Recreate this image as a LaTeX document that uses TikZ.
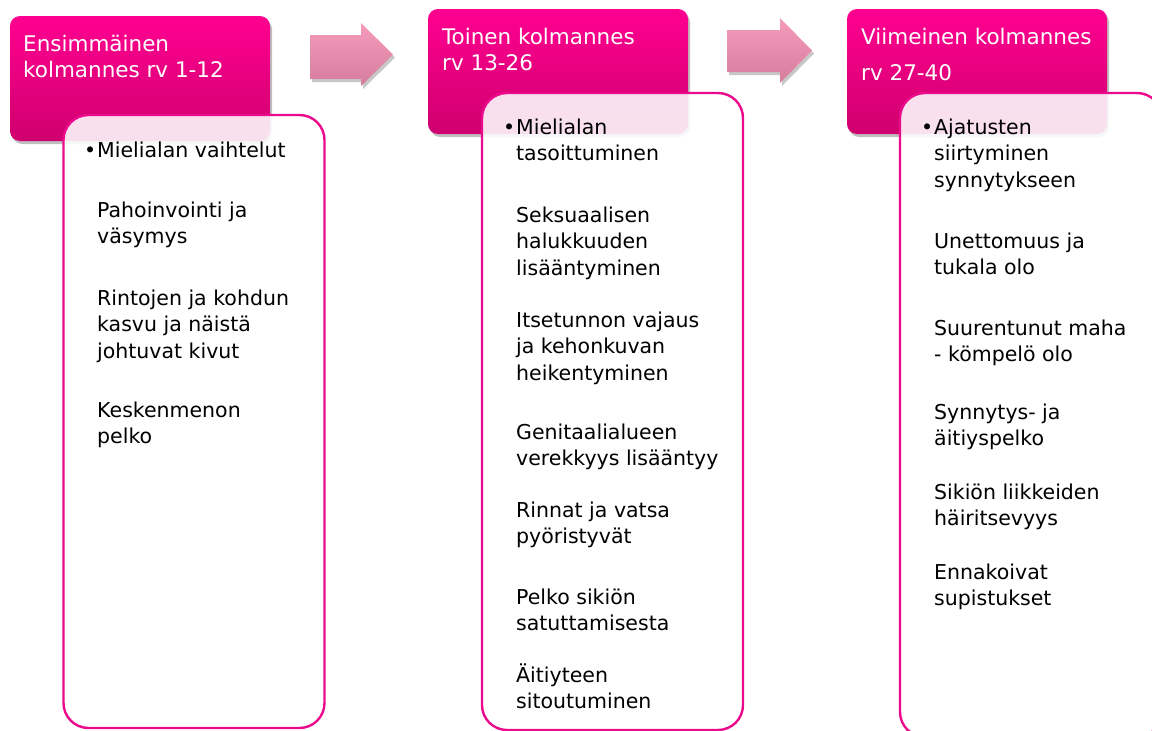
\documentclass[tikz,border=0pt]{standalone}
\usepackage{fontspec}
\setmainfont{DejaVu Sans}
\usetikzlibrary{shadows}
\definecolor{hdtop}{HTML}{FF0090}
\definecolor{hdbot}{HTML}{CF006E}
\definecolor{boxline}{HTML}{EC0A8C}
\definecolor{arrtop}{HTML}{F59CBD}
\definecolor{arrbot}{HTML}{D67C9C}
\tikzset{
  header/.style={rectangle, rounded corners=10pt, minimum width=260pt, minimum height=125pt,
    inner sep=0pt, top color=hdtop, bottom color=hdbot,
    drop shadow={shadow xshift=2pt, shadow yshift=-3pt, opacity=.25, fill=black}},
  listbox/.style={rectangle, rounded corners=25pt, minimum width=261pt,
    inner sep=0pt, draw=boxline, line width=2.4pt, fill=white, fill opacity=.88},
  blockarrow/.style={top color=arrtop, bottom color=arrbot,
    drop shadow={shadow xshift=2pt, shadow yshift=-3pt, opacity=.22, fill=black}},
  htext/.style={anchor=base west, inner sep=0pt, text=white,
    font=\fontsize{21.5}{26}\selectfont},
  btext/.style={anchor=base west, inner sep=0pt, text=black,
    font=\fontsize{20.5}{26.5}\selectfont},
}
% left-aligned lines, first baseline on the anchor
\newcommand{\lines}[1]{\begin{tabular}[t]{@{}l@{}}#1\end{tabular}}
\newcommand{\bul}{\leavevmode\llap{•\hspace{1pt}}}
\begin{document}
\begin{tikzpicture}[x=1pt, y=-1pt]
\useasboundingbox (0,0) rectangle (1152,731);
\clip (0,0) rectangle (1152,731);

% phase headers
\node[header] (h1) at (140,78.5) {};
\node[header] (h2) at (558,71.5) {};
\node[header] (h3) at (977,71.5) {};

% block arrows between the headers
\path[blockarrow] (310,35) -- (361,35) -- (361,23) -- (393,54.5) -- (361,86) -- (361,79) -- (310,79) -- cycle;
\path[blockarrow] (727,30) -- (780,30) -- (780,18) -- (812,50.5) -- (780,83) -- (780,72) -- (727,72) -- cycle;

% list boxes (the last one runs past the right and bottom edges)
\node[listbox, minimum height=613pt] (b1) at (194,421.5) {};
\node[listbox, minimum height=637pt] (b2) at (612.5,411.5) {};
\node[listbox, minimum height=644pt, minimum width=262pt] (b3) at (1031,415) {};

% header titles
\node[htext] (ht1) at (23,51) {\lines{Ensimmäinen\\kolmannes rv 1-12}};
\node[htext] (ht2) at (442,44) {\lines{Toinen kolmannes\\rv 13-26}};
\node[htext] (ht3) at (861,44) {\lines{Viimeinen kolmannes\\[10pt]rv 27-40}};

% first trimester
\node[btext] (p11) at (97,157) {\lines{\bul Mielialan vaihtelut}};
\node[btext] (p12) at (97,217) {\lines{Pahoinvointi ja\\väsymys}};
\node[btext] (p13) at (97,305) {\lines{Rintojen ja kohdun\\kasvu ja näistä\\johtuvat kivut}};
\node[btext] (p14) at (97,417) {\lines{Keskenmenon\\pelko}};

% second trimester
\node[btext] (p21) at (516,134) {\lines{\bul Mielialan\\tasoittuminen}};
\node[btext] (p22) at (516,222) {\lines{Seksuaalisen\\halukkuuden\\lisääntyminen}};
\node[btext] (p23) at (516,327) {\lines{Itsetunnon vajaus\\ja kehonkuvan\\heikentyminen}};
\node[btext] (p24) at (516,439) {\lines{Genitaalialueen\\verekkyys lisääntyy}};
\node[btext] (p25) at (516,517) {\lines{Rinnat ja vatsa\\pyöristyvät}};
\node[btext] (p26) at (516,604) {\lines{Pelko sikiön\\satuttamisesta}};
\node[btext] (p27) at (516,682) {\lines{Äitiyteen\\sitoutuminen}};

% third trimester
\node[btext] (p31) at (934,134) {\lines{\bul Ajatusten\\siirtyminen\\synnytykseen}};
\node[btext] (p32) at (934,248) {\lines{Unettomuus ja\\tukala olo}};
\node[btext] (p33) at (934,335) {\lines{Suurentunut maha\\- kömpelö olo}};
\node[btext] (p34) at (934,419) {\lines{Synnytys- ja\\äitiyspelko}};
\node[btext] (p35) at (934,499) {\lines{Sikiön liikkeiden\\häiritsevyys}};
\node[btext] (p36) at (934,579) {\lines{Ennakoivat\\supistukset}};
\end{tikzpicture}
\end{document}
